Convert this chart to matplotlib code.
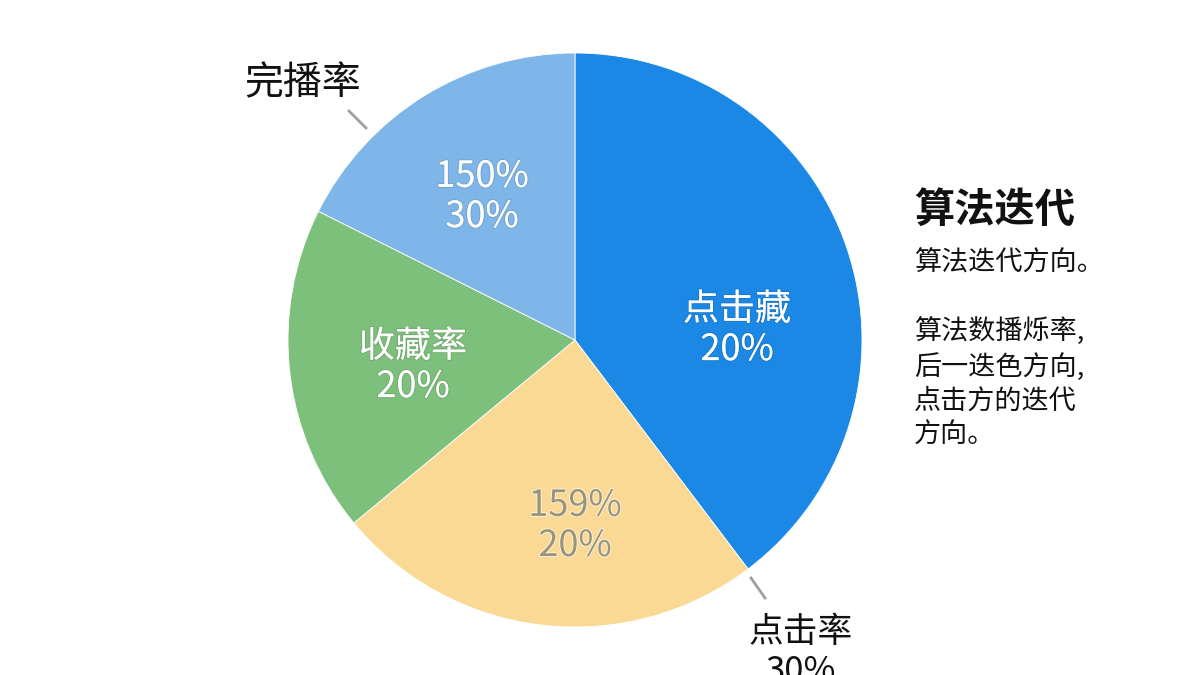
import matplotlib.pyplot as plt
import matplotlib.patheffects as pe

plt.rcParams['font.family'] = ['Noto Sans CJK SC', 'DejaVu Sans']

# slice shares, clockwise from 12 o'clock
shares = [39.7, 24.3, 18.4, 17.6]
inner_labels = ['点击藏\n20%', '159%\n20%', '收藏率\n20%', '150%\n30%']
colors = ['#1B88E6', '#FAD995', '#7DC07B', '#7FB6E9']
text_colors = ['white', '#9C9476', 'white', 'white']

side_title = '算法迭代'
side_lines = ['算法迭代方向。', '', '算法数播烁率,', '后一迭色方向,', '点击方的迭代', '方向。']

fig = plt.figure(figsize=(12, 6.75), dpi=100)
ax = fig.add_axes([0, 0, 1, 1])

cx, cy, r = 575, 340, 287
# y axis runs downwards, so data angle -90 is the top of the picture
# and counterclockwise in data is clockwise on screen
ax.pie(shares, colors=colors, startangle=-90, counterclock=True,
       center=(cx, cy), radius=r, frame=True,
       wedgeprops=dict(edgecolor='white', linewidth=0.6))
ax.set_xlim(0, 1200)
ax.set_ylim(675, 0)
ax.set_aspect('equal')
ax.axis('off')

# label positions inside slices
label_pos = [(737, 330), (575, 526), (413, 367), (482, 197)]
for (x, y), txt, tc in zip(label_pos, inner_labels, text_colors):
    if tc == 'white':
        fx = [pe.withStroke(linewidth=1.5, foreground=(0, 0, 0, 0.10))]
    else:
        fx = [pe.withStroke(linewidth=1.2, foreground=(1, 1, 1, 0.8))]
    ax.text(x, y, txt, ha='center', va='center', fontsize=26, color=tc,
            linespacing=1.15, path_effects=fx)

# outside labels with leader lines
ax.plot([349, 366], [111, 128], color='#a0a0a0', lw=2)
ax.text(303, 83, '完播率', ha='center', va='center', fontsize=28,
        color='#111111')
ax.plot([751, 765], [578, 598], color='#a0a0a0', lw=2)
ax.text(801, 652, '点击率\n30%', ha='center', va='center', fontsize=25,
        color='#111111', linespacing=1.15)

# right side text block
ax.text(914, 210, side_title, ha='left', va='center', fontsize=29,
        fontweight='bold', color='#111111')
ax.text(914, 250, '\n'.join(side_lines), ha='left', va='top', fontsize=19.5,
        color='#111111', linespacing=1.32)

fig.savefig('out.png', dpi=100, facecolor='white')
